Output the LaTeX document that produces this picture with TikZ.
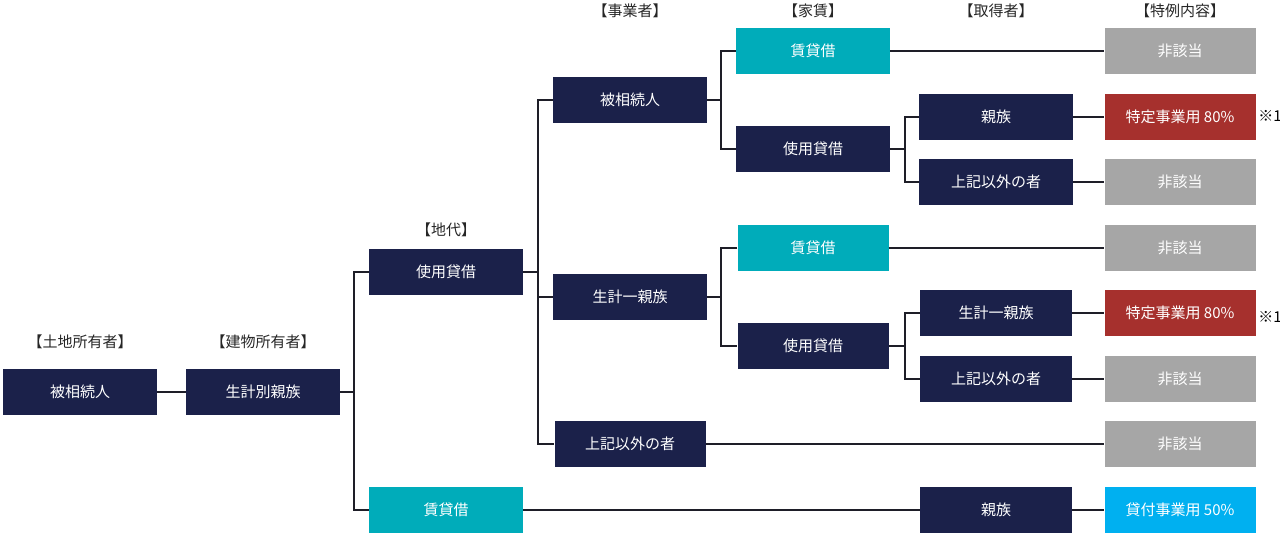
\documentclass[tikz,border=0pt]{standalone}
\usepackage{fontspec}
\setmainfont{Noto Sans CJK JP}
\usepackage{tikz}
\definecolor{navy}{RGB}{27,33,74}
\definecolor{teal1}{RGB}{0,172,186}
\definecolor{gray1}{RGB}{166,166,166}
\definecolor{red1}{RGB}{166,48,45}
\definecolor{sky1}{RGB}{0,176,240}
\definecolor{line1}{RGB}{30,30,40}

\begin{document}
\begin{tikzpicture}[x=1pt, y=-1pt, font=\fontsize{15}{17}\selectfont,
  box/.style = {minimum width=154pt, minimum height=46pt, inner sep=0pt, text=white},
  person/.style = {box, fill=navy},
  lease/.style = {box, fill=teal1},
  none/.style = {box, fill=gray1, minimum width=151pt},
  spec/.style = {box, fill=red1, minimum width=151pt},
  loan/.style = {box, fill=sky1, minimum width=151pt},
  head/.style = {text=black!85},
  link/.style = {draw=line1, line width=1.2pt}]
	\useasboundingbox (0,0) rectangle (1280,543);
	% column headings
	\node[head] (h1) at (80,342){【土地所有者】};
	\node[head] (h2) at (263,342){【建物所有者】};
	\node[head] (h3) at (446,230){【地代】};
	\node[head] (h4) at (630,11){【事業者】};
	\node[head] (h5) at (813,11){【家賃】};
	\node[head] (h6) at (996,11){【取得者】};
	\node[head] (h7) at (1180,11){【特例内容】};
	% owners
	\node[person] (A) at (80,392){被相続人};
	\node[person] (B) at (263,392){生計別親族};
	% ground rent
	\node[person] (C) at (446,272){使用貸借};
	\node[lease] (D) at (446,510){賃貸借};
	% business
	\node[person] (E) at (630,100){被相続人};
	\node[person] (F) at (630,297){生計一親族};
	\node[person, minimum width=151pt] (G) at (630,444){上記以外の者};
	% house rent
	\node[lease] (H) at (813,51){賃貸借};
	\node[person] (I) at (813,149){使用貸借};
	\node[lease, minimum width=151pt] (J) at (813,248){賃貸借};
	\node[person, minimum width=151pt] (K) at (813,346){使用貸借};
	% acquirer
	\node[person] (L) at (996,117){親族};
	\node[person] (M) at (996,182){上記以外の者};
	\node[person, minimum width=152pt] (N) at (996,313){生計一親族};
	\node[person, minimum width=152pt] (O) at (996,379){上記以外の者};
	\node[person, minimum width=152pt] (P) at (996,510){親族};
	% result
	\node[none] (R1) at (1180,51){非該当};
	\node[spec] (R2) at (1180,117){特定事業用 80\%};
	\node[none] (R3) at (1180,182){非該当};
	\node[none] (R4) at (1180,248){非該当};
	\node[spec] (R5) at (1180,313){特定事業用 80\%};
	\node[none] (R6) at (1180,379){非該当};
	\node[none] (R7) at (1180,444){非該当};
	\node[loan] (R8) at (1180,510){貸付事業用 50\%};
	\node (n1) at (1270,116){※1};
	\node (n2) at (1270,317){※1};
	% branch points
	\coordinate (j1) at (354,392);
	\coordinate (j2) at (538,272);
	\coordinate (j3) at (721,100);
	\coordinate (j4) at (721,297);
	\coordinate (j5) at (905,149);
	\coordinate (j6) at (905,346);
	% connectors
	\draw[link] (A) -- (B);
	\draw[link] (B) -- (j1);
	\draw[link] (C.west) -| (j1) |- (D.west);
	\draw[link] (C) -- (j2);
	\draw[link] (E.west) -| (j2) |- (G.west);
	\draw[link] (j2) |- (F.west);
	\draw[link] (E) -- (j3);
	\draw[link] (H.west) -| (j3) |- (I.west);
	\draw[link] (F) -- (j4);
	\draw[link] (J.west) -| (j4) |- (K.west);
	\draw[link] (I) -- (j5);
	\draw[link] (L.west) -| (j5) |- (M.west);
	\draw[link] (K) -- (j6);
	\draw[link] (N.west) -| (j6) |- (O.west);
	\draw[link] (H) -- (R1);
	\draw[link] (L) -- (R2);
	\draw[link] (M) -- (R3);
	\draw[link] (J) -- (R4);
	\draw[link] (N) -- (R5);
	\draw[link] (O) -- (R6);
	\draw[link] (G) -- (R7);
	\draw[link] (D) -- (P);
	\draw[link] (P) -- (R8);
\end{tikzpicture}
\end{document}
